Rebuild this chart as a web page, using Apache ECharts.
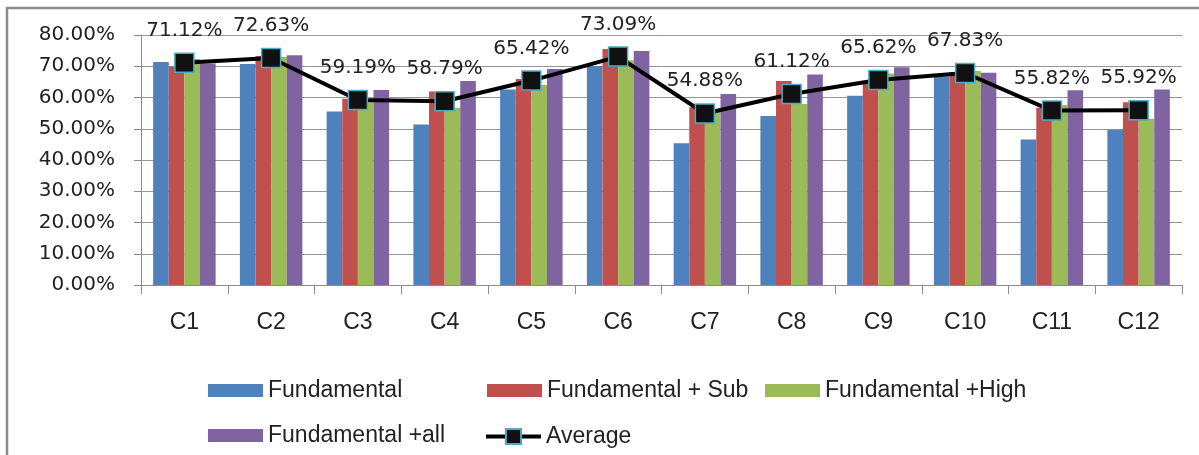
<!DOCTYPE html>
<html>
<head>
<meta charset="utf-8">
<script src="https://cdn.jsdelivr.net/npm/echarts@6/dist/echarts.min.js"></script>
<style>
  html, body { margin: 0; padding: 0; background: #fff; }
  #main { width: 1199px; height: 455px; }
</style>
</head>
<body>
<div id="main"></div>
<script>
var categories = ['C1', 'C2', 'C3', 'C4', 'C5', 'C6', 'C7', 'C8', 'C9', 'C10', 'C11', 'C12'];
var fundamental = [71.4, 70.7, 55.5, 51.4, 62.6, 70.1, 45.4, 54.1, 60.6, 66.7, 46.6, 49.7];
var fundSub     = [69.9, 73.3, 59.6, 61.9, 65.9, 75.5, 56.9, 65.3, 64.5, 68.2, 56.7, 58.5];
var fundHigh    = [72.3, 73.0, 59.3, 56.7, 64.0, 71.9, 56.1, 57.9, 67.7, 68.5, 57.6, 53.2];
var fundAll     = [70.9, 73.5, 62.4, 65.3, 69.1, 74.9, 61.1, 67.4, 69.7, 67.9, 62.3, 62.6];
var average     = [71.12, 72.63, 59.19, 58.79, 65.42, 73.09, 54.88, 61.12, 65.62, 67.83, 55.82, 55.92];
var seriesNames = ['Fundamental', 'Fundamental + Sub', 'Fundamental +High', 'Fundamental +all', 'Average'];

var myChart = echarts.init(document.getElementById('main'));

var legendFont = { fontFamily: 'Liberation Sans', fontSize: 23, color: '#222' };
// one legend per item so they sit on the same grid as the original
function legendAt(name, left, top) {
    return {
        data: [{ name: name, icon: 'rect' }], left: left, top: top,
        itemWidth: 55, itemHeight: 13, itemGap: 0,
        selectedMode: false,
        textStyle: legendFont
    };
}

function bar(name, data, color) {
    return {
        name: name, type: 'bar', data: data,
        barGap: '0%', barCategoryGap: '28%',
        itemStyle: { color: color }
    };
}

var avgLegend = {
    data: [seriesNames[4]], left: 479, top: 420,
    itemWidth: 55, itemHeight: 19, itemGap: 0,
    selectedMode: false,
    lineStyle: { width: 4, color: '#000' },
    textStyle: legendFont
};

var option = {
    animation: false,
    graphic: [{
        type: 'rect', silent: true, z: -1,
        shape: { x: 7, y: 8, width: 1200, height: 460 },
        style: { fill: 'none', stroke: '#8c8c8c', lineWidth: 2.5 }
    }],
    grid: { left: 141, right: 17, top: 35, bottom: 170 },
    legend: [
        legendAt(seriesNames[0], 203, 374),
        legendAt(seriesNames[1], 482, 374),
        legendAt(seriesNames[2], 760, 374),
        legendAt(seriesNames[3], 203, 419),
        avgLegend
    ],
    xAxis: {
        type: 'category',
        data: categories,
        axisLine: { lineStyle: { color: '#8c8c8c', width: 1 } },
        axisTick: { show: true, length: 9, lineStyle: { color: '#8c8c8c' } },
        axisLabel: { margin: 26, fontFamily: 'Liberation Sans', fontSize: 23, color: '#222' }
    },
    yAxis: {
        type: 'value',
        min: 0, max: 80, interval: 10,
        axisLine: { show: true, lineStyle: { color: '#8c8c8c', width: 1 } },
        axisTick: { show: true, length: 7, lineStyle: { color: '#8c8c8c' } },
        splitLine: { lineStyle: { color: '#969696', width: 1 } },
        axisLabel: {
            margin: 26, fontFamily: 'DejaVu Sans', fontSize: 20, color: '#222',
            formatter: function (v) { return v.toFixed(2) + '%'; }
        }
    },
    series: [
        bar(seriesNames[0], fundamental, '#4f81bd'),
        bar(seriesNames[1], fundSub, '#c0504d'),
        bar(seriesNames[2], fundHigh, '#9bbb59'),
        bar(seriesNames[3], fundAll, '#8064a2'),
        {
            name: seriesNames[4], type: 'line', data: average, z: 5,
            symbol: 'rect', symbolSize: 19,
            lineStyle: { color: '#000', width: 4 },
            itemStyle: { color: '#111', borderColor: '#4bacc6', borderWidth: 1.5 },
            label: {
                show: true, position: 'top', distance: 12,
                fontFamily: 'DejaVu Sans', fontSize: 20, color: '#222',
                formatter: function (p) { return p.value.toFixed(2) + '%'; }
            }
        }
    ]
};

myChart.setOption(option);
</script>
</body>
</html>
